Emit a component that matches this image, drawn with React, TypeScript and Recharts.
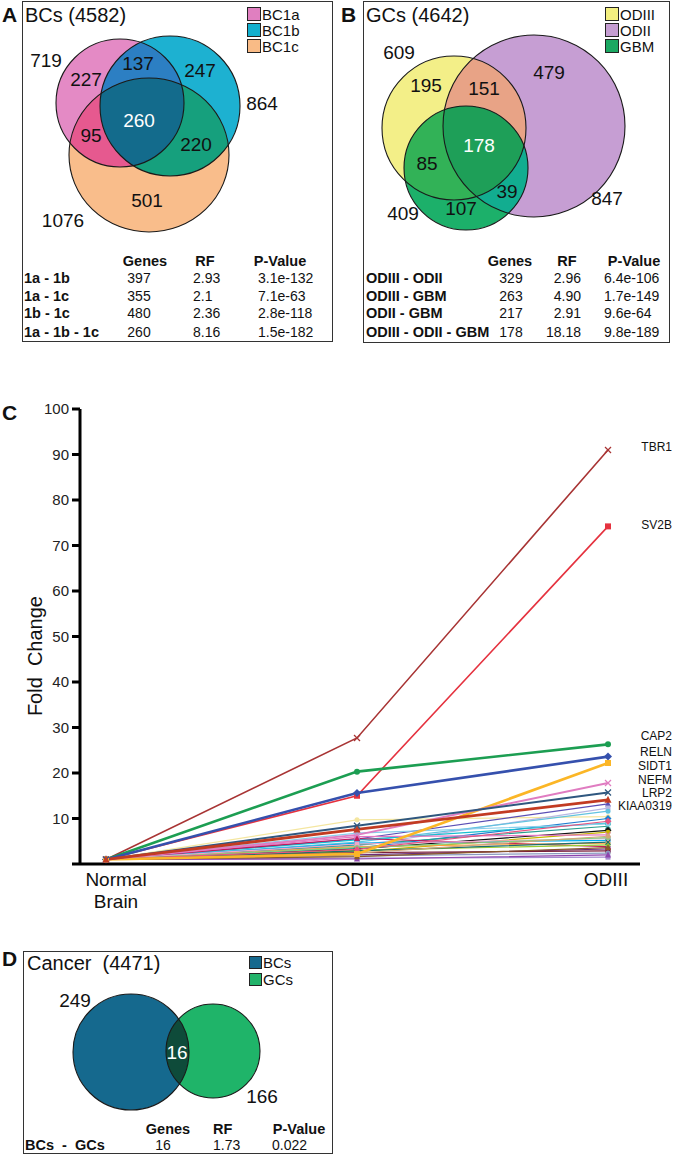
import React from 'react';
import { LineChart, Line, XAxis, YAxis, ScatterChart, Scatter, LabelList } from 'recharts';

const FONT = '"Liberation Sans", Arial, Helvetica, sans-serif';

// ---------------- Panel A (BCs) ----------------
const setsA = ['BC1a', 'BC1b', 'BC1c'];
const totalsA = ['719', '864', '1076'];
const regionCountsA = ['227', '247', '501', '137', '95', '220', '260'];
const tableALabels = ['1a - 1b', '1a - 1c', '1b - 1c', '1a - 1b - 1c'];
const tableAGenes = ['397', '355', '480', '260'];
const tableARF = ['2.93', '2.1', '2.36', '8.16'];
const tableAP = ['3.1e-132', '7.1e-63', '2.8e-118', '1.5e-182'];

// ---------------- Panel B (GCs) ----------------
const setsB = ['ODIII', 'ODII', 'GBM'];
const totalsB = ['609', '847', '409'];
const regionCountsB = ['195', '479', '107', '151', '85', '39', '178'];
const tableBLabels = ['ODIII - ODII', 'ODIII - GBM', 'ODII - GBM', 'ODIII - ODII - GBM'];
const tableBGenes = ['329', '263', '217', '178'];
const tableBRF = ['2.96', '4.90', '2.91', '18.18'];
const tableBP = ['6.4e-106', '1.7e-149', '9.6e-64', '9.8e-189'];

// ---------------- Panel D (Cancer) ----------------
const setsD = ['BCs', 'GCs'];
const totalsD = ['249', '166'];
const regionCountsD = ['16'];
const tableDLabels = ['BCs  -  GCs'];
const tableDGenes = ['16'];
const tableDRF = ['1.73'];
const tableDP = ['0.022'];

// ---------------- Panel C (fold change) ----------------
const stages = ['Normal Brain', 'ODII', 'ODIII'];
const yTicks = [0, 10, 20, 30, 40, 50, 60, 70, 80, 90, 100];
const namedGenes = ['TBR1', 'SV2B', 'CAP2', 'RELN', 'SIDT1', 'NEFM', 'LRP2', 'KIAA0319'];
const namedValues = [
  [1, 27.7, 91.0],
  [1, 15.0, 74.2],
  [1, 20.3, 26.3],
  [1, 15.6, 23.6],
  [1, 2.2, 22.2],
  [1, 6.4, 17.8],
  [1, 8.4, 15.7],
  [1, 7.6, 14.1],
];
const otherValues = [
  [1, 9.7, 10.4],
  [1, 5.5, 13.2],
  [1, 4.0, 12.3],
  [1, 4.8, 11.6],
  [1, 3.5, 10.0],
  [1, 5.3, 9.0],
  [1, 4.2, 8.3],
  [1, 3.3, 7.4],
  [1, 2.7, 7.0],
  [1, 6.0, 6.4],
  [1, 4.6, 5.2],
  [1, 5.6, 3.8],
  [1, 3.8, 4.6],
  [1, 4.4, 5.6],
  [1, 3.0, 4.2],
  [1, 2.0, 3.3],
  [1, 2.5, 2.9],
  [1, 1.8, 2.4],
  [1, 1.3, 1.5],
  [1, 1.1, 2.0],
  [1, 3.6, 5.8],
  [1, 2.9, 4.8],
  [1, 2.4, 6.1],
  [1, 6.8, 8.8],
  [1, 1.6, 3.6],
  [1, 3.2, 9.4],
];

// ---------------- styles (kept apart from data) ----------------
const namedColors = ['#a83434', '#e5323f', '#1c9e52', '#3550ad', '#fbb626', '#e07cc1', '#2f577f', '#c23b22'];
const namedWidths = [1.6, 1.6, 2.6, 2.6, 2.6, 2, 2, 2.8];
const namedMarkers = ['x', 'square', 'circle', 'diamond', 'square', 'x', 'x', 'triangle'];
const namedLabelDy = [-3, -1, -8, -5, 3, -3.5, 0.5, 6];
const otherColors = [
  '#f4e6a0', '#5b4fb5', '#b7b7e3', '#62c3e0', '#1f7fd0', '#17becf', '#2a9d8f', '#111111', '#c8b400',
  '#e377c2', '#00aeef', '#c2185b', '#ff9f40', '#f4a6c8', '#9acd32', '#6b2c7a', '#7b1f3a', '#8a9bc0',
  '#a58bd0', '#8e44ad', '#7fd17f', '#1b6f6f', '#d2a679', '#87ceeb', '#8b5a2b', '#e75480',
];
const otherMarkers = ['circle', 'triangle', 'square', 'circle', 'diamond', 'square', 'x', 'diamond', 'circle',
  'x', 'square', 'triangle', 'circle', 'square', 'circle', 'x', 'square', 'circle', 'square', 'triangle',
  'circle', 'x', 'circle', 'circle', 'triangle', 'diamond'];

const vennA = {
  circles: [
    { x: 98, y: 102, rx: 64, ry: 64 },
    { x: 148, y: 105, rx: 70, ry: 70 },
    { x: 127, y: 154, rx: 80, ry: 77 },
  ],
  regionSets: [[0], [1], [2], [0, 1], [0, 2], [1, 2], [0, 1, 2]],
  regionFills: ['#e48ac5', '#1db1d1', '#f9bd8b', '#2c7fc3', '#e6598f', '#16a07d', '#136b8c'],
  regionLabelPos: [[64, 78], [178, 69], [125, 199], [116, 62], [69, 134], [174, 143], [117, 119]],
  totalPos: [[24, 59], [240, 102], [41, 219]],
  legend: ['#e07fc0', '#12b0cf', '#f9bb86'],
};
const vennB = {
  circles: [
    { x: 91, y: 127, rx: 72, ry: 72 },
    { x: 171, y: 125, rx: 91, ry: 91 },
    { x: 103, y: 167, rx: 62, ry: 62 },
  ],
  regionSets: [[0], [1], [2], [0, 1], [0, 2], [1, 2], [0, 1, 2]],
  regionFills: ['#f3ef88', '#c69ed3', '#1cb06a', '#e8a386', '#32b257', '#12ad90', '#1e9f58'],
  regionLabelPos: [[63, 84], [186, 71], [98, 207], [121, 87], [64, 162], [144, 190], [116, 144]],
  totalPos: [[36, 51], [244, 197], [40, 212]],
  legend: ['#f3ef80', '#c69ed3', '#1ba862'],
};
const vennD = {
  circles: [
    { x: 108, y: 101, rx: 58, ry: 58 },
    { x: 190, y: 100, rx: 47, ry: 47 },
  ],
  regionSets: [[0], [1], [0, 1]],
  regionFills: ['#15698e', '#1fb469', '#0e4b3a'],
  regionLabelPos: [[154, 101]],
  totalPos: [[52, 49], [239, 145]],
  legend: ['#15698e', '#22b36a'],
};

type Circ = { x: number; y: number; rx: number; ry: number };

function T(props: { x: number; y: number; s?: number; b?: boolean; a?: 'start' | 'middle' | 'end'; c?: string; children: React.ReactNode }) {
  const { x, y, s = 14, b = false, a = 'start', c = '#111', children } = props;
  const tx = a === 'middle' ? '-50%' : a === 'end' ? '-100%' : '0';
  return (
    <div style={{ position: 'absolute', left: x, top: y, transform: `translate(${tx}, -50%)`, fontSize: s, fontWeight: b ? 700 : 400, color: c, fontFamily: FONT, whiteSpace: 'pre', lineHeight: 1 }}>
      {children}
    </div>
  );
}

function VennChart(props: {
  uid: string; width: number; height: number; circles: Circ[]; regionSets: number[][]; regionFills: string[];
  labels: { x: number; y: number; text: string; color: string }[];
}) {
  const { uid, width, height, circles, regionSets, regionFills, labels } = props;
  const kx = 1; // domain spans the plot exactly, one unit per pixel
  const ky = 1;
  const regionData = regionSets.map((sets, i) => {
    const main = circles[sets[sets.length - 1]];
    return { x: main.x, y: main.y, rx: main.rx, ry: main.ry, fill: regionFills[i], clips: sets.slice(0, -1).map((s) => circles[s]), id: `${uid}-r${i}` };
  });
  const outlineData = circles.map((c) => ({ ...c }));
  const RegionShape = (p: any) => {
    const d = p.payload;
    const cx = p.cx;
    const cy = p.cy;
    if (cx == null || cy == null) return <g />;
    let el: React.ReactElement = <ellipse cx={cx} cy={cy} rx={d.rx * kx} ry={d.ry * ky} fill={d.fill} />;
    const defs = d.clips.map((c: Circ, j: number) => (
      <clipPath id={`${d.id}-c${j}`} key={j}>
        <ellipse cx={cx + (c.x - d.x) * kx} cy={cy + (c.y - d.y) * ky} rx={c.rx * kx} ry={c.ry * ky} />
      </clipPath>
    ));
    d.clips.forEach((_c: Circ, j: number) => {
      el = <g clipPath={`url(#${d.id}-c${j})`}>{el}</g>;
    });
    return (
      <g>
        <defs>{defs}</defs>
        {el}
      </g>
    );
  };
  const OutlineShape = (p: any) => {
    if (p.cx == null) return <g />;
    return <ellipse cx={p.cx} cy={p.cy} rx={p.payload.rx * kx} ry={p.payload.ry * ky} fill="none" stroke="#1a1a1a" strokeWidth={1.1} />;
  };
  const LabelShape = (p: any) => {
    if (p.cx == null) return <g />;
    return (
      <text x={p.cx} y={p.cy} textAnchor="middle" dominantBaseline="central" fontSize={19} fontFamily={FONT} fill={p.payload.color}>
        {p.payload.text}
      </text>
    );
  };
  return (
    <ScatterChart width={width} height={height} margin={{ top: 0, right: 0, bottom: 0, left: 0 }}>
      <XAxis type="number" dataKey="x" domain={[0, width]} hide allowDataOverflow />
      <YAxis type="number" dataKey="y" domain={[0, height]} hide reversed allowDataOverflow />
      <Scatter data={regionData} shape={RegionShape} isAnimationActive={false} />
      <Scatter data={outlineData} shape={OutlineShape} isAnimationActive={false} />
      <Scatter data={labels} shape={LabelShape} isAnimationActive={false} />
    </ScatterChart>
  );
}

function VennPanel(props: {
  uid: string; left: number; top: number; width: number; height: number; venn: any;
  regionCounts: string[]; totals: string[]; whiteRegion: number;
}) {
  const { uid, left, top, width, height, venn, regionCounts, totals, whiteRegion } = props;
  const labels = [
    ...regionCounts.map((t, i) => ({ x: venn.regionLabelPos[i][0], y: venn.regionLabelPos[i][1], text: t, color: i === whiteRegion ? '#ffffff' : '#111111' })),
    ...totals.map((t, i) => ({ x: venn.totalPos[i][0], y: venn.totalPos[i][1], text: t, color: '#111111' })),
  ];
  return (
    <div style={{ position: 'absolute', left, top, width, height }}>
      <VennChart uid={uid} width={width} height={height} circles={venn.circles} regionSets={venn.regionSets} regionFills={venn.regionFills} labels={labels} />
      <div style={{ position: 'absolute', left: 0, top: 0, width, height, boxSizing: 'border-box', border: '1.5px solid #333', pointerEvents: 'none' }} />
    </div>
  );
}

function LegendBox(props: { x: number; y: number; names: string[]; colors: string[]; step: number; size: number }) {
  const { x, y, names, colors, step, size } = props;
  return (
    <>
      {names.map((n, i) => (
        <React.Fragment key={n}>
          <div style={{ position: 'absolute', left: x, top: y + i * step - size / 2, width: size, height: size, boxSizing: 'border-box', border: '1px solid #222', background: colors[i] }} />
          <T x={x + size + 1} y={y + i * step} s={15}>{n}</T>
        </React.Fragment>
      ))}
    </>
  );
}

function StatsTable(props: {
  labelX: number; headerY: number; rowYs: number[]; labels: string[]; genes: string[]; rf: string[]; p: string[];
  genesX: number; rfX: number; rfAnchor: 'start' | 'middle' | 'end'; pX: number; pAnchor: 'start' | 'middle' | 'end';
  hGenesX: number; hRfX: number; hRfAnchor: 'start' | 'middle' | 'end'; hPX: number;
}) {
  const q = props;
  return (
    <>
      <T x={q.hGenesX} y={q.headerY} b a="middle" s={14.5}>Genes</T>
      <T x={q.hRfX} y={q.headerY} b a={q.hRfAnchor} s={14.5}>RF</T>
      <T x={q.hPX} y={q.headerY} b a="middle" s={14.5}>P-Value</T>
      {q.labels.map((l, i) => (
        <React.Fragment key={l}>
          <T x={q.labelX} y={q.rowYs[i]} b s={14.5}>{l}</T>
          <T x={q.genesX} y={q.rowYs[i]} a="middle" s={14}>{q.genes[i]}</T>
          <T x={q.rfX} y={q.rowYs[i]} a={q.rfAnchor} s={14}>{q.rf[i]}</T>
          <T x={q.pX} y={q.rowYs[i]} a={q.pAnchor} s={14}>{q.p[i]}</T>
        </React.Fragment>
      ))}
    </>
  );
}

function Marker(props: { cx?: number; cy?: number; kind: string; color: string; s: number }) {
  const { cx, cy, kind, color, s } = props;
  if (cx == null || cy == null) return <g />;
  const h = s / 2;
  switch (kind) {
    case 'square':
      return <rect x={cx - h} y={cy - h} width={s} height={s} fill={color} />;
    case 'diamond':
      return <polygon points={`${cx},${cy - h - 1} ${cx + h + 1},${cy} ${cx},${cy + h + 1} ${cx - h - 1},${cy}`} fill={color} />;
    case 'triangle':
      return <polygon points={`${cx},${cy - h - 1} ${cx + h + 0.5},${cy + h} ${cx - h - 0.5},${cy + h}`} fill={color} />;
    case 'x':
      return (
        <g stroke={color} strokeWidth={1.3}>
          <line x1={cx - h} y1={cy - h} x2={cx + h} y2={cy + h} />
          <line x1={cx - h} y1={cy + h} x2={cx + h} y2={cy - h} />
        </g>
      );
    default:
      return <circle cx={cx} cy={cy} r={h} fill={color} />;
  }
}

const StageTick = (p: any) => {
  const { x, y, payload } = p;
  const lines = String(payload.value) === 'Normal Brain' ? ['Normal', 'Brain'] : [String(payload.value)];
  const dx = lines.length > 1 ? 10 : -2;
  return (
    <g>
      {lines.map((l, i) => (
        <text key={l} x={x + dx} y={y + 7 + i * 22} textAnchor="middle" dominantBaseline="central" fontSize={19} fontFamily={FONT} fill="#111">
          {l}
        </text>
      ))}
    </g>
  );
};

const YLabel = (p: any) => {
  const vb = p.viewBox || { x: 0, y: 0, width: 80, height: 455 };
  const x = vb.x + 35;
  const y = vb.y + vb.height * 0.543;
  return (
    <text x={x} y={y} transform={`rotate(-90, ${x}, ${y})`} textAnchor="middle" dominantBaseline="central" fontSize={20} fontFamily={FONT} fill="#111" style={{ whiteSpace: 'pre' }}>
      {'Fold  Change'}
    </text>
  );
};

function FoldChangeChart() {
  const rows = stages.map((s, i) => {
    const r: Record<string, any> = { stage: s };
    namedGenes.forEach((g, j) => { r[g] = namedValues[j][i]; });
    otherValues.forEach((v, j) => { r[`other${j}`] = v[i]; });
    return r;
  });
  return (
    <LineChart width={676} height={540} data={rows} margin={{ top: 29, right: 36, bottom: 16, left: 0 }}>
      <XAxis dataKey="stage" height={40} padding={{ left: 26, right: 32 }} axisLine={{ stroke: '#000', strokeWidth: 3 }} tickLine={false} tick={<StageTick />} interval={0} />
      <YAxis
        width={80}
        domain={[0, 100]}
        ticks={yTicks}
        interval={0}
        tickSize={8}
        tickMargin={3}
        axisLine={{ stroke: '#000', strokeWidth: 3 }}
        tickLine={{ stroke: '#000', strokeWidth: 3 }}
        tick={{ fontSize: 15, fill: '#222', fontFamily: FONT }}
        tickFormatter={(v: number) => (v === 0 ? '' : String(v))}
        label={{ value: 'Fold  Change', content: YLabel }}
      />
      {otherValues.map((_v, j) => (
        <Line
          key={`other${j}`}
          dataKey={`other${j}`}
          stroke={otherColors[j]}
          strokeWidth={1.2}
          isAnimationActive={false}
          dot={(p: any) => <Marker key={`o${j}-${p.index}`} cx={p.cx} cy={p.cy} kind={otherMarkers[j]} color={otherColors[j]} s={5} />}
          activeDot={false}
        />
      ))}
      {namedGenes.map((g, j) => (
        <Line
          key={g}
          dataKey={g}
          stroke={namedColors[j]}
          strokeWidth={namedWidths[j]}
          isAnimationActive={false}
          dot={(p: any) => <Marker key={`${g}-${p.index}`} cx={p.cx} cy={p.cy} kind={namedMarkers[j]} color={namedColors[j]} s={6} />}
          activeDot={false}
        >
          <LabelList
            dataKey={g}
            content={(p: any) =>
              p.index === 2 ? (
                <text x={672} y={p.y + namedLabelDy[j]} textAnchor="end" dominantBaseline="central" fontSize={12} fontFamily={FONT} fill="#111">
                  {g}
                </text>
              ) : null
            }
          />
        </Line>
      ))}
    </LineChart>
  );
}

export default function App() {
  const rowYs = [278, 296, 313, 332];
  return (
    <div style={{ position: 'absolute', left: 0, top: 0, width: 676, height: 1160, background: '#fff', overflow: 'hidden', fontFamily: FONT }}>
      {/* Panel A */}
      <VennPanel uid="A" left={22} top={1} width={311} height={341} venn={vennA} regionCounts={regionCountsA} totals={totalsA} whiteRegion={6} />
      <T x={2} y={14} s={21} b>A</T>
      <T x={25} y={15} s={20}>BCs (4582)</T>
      <LegendBox x={247} y={14} names={setsA} colors={vennA.legend} step={16} size={14} />
      <StatsTable labelX={24} headerY={261} rowYs={rowYs} labels={tableALabels} genes={tableAGenes} rf={tableARF} p={tableAP}
        genesX={139} rfX={193} rfAnchor="start" pX={258} pAnchor="start" hGenesX={145} hRfX={205} hRfAnchor="middle" hPX={280} />

      {/* Panel B */}
      <VennPanel uid="B" left={363} top={1} width={307} height={342} venn={vennB} regionCounts={regionCountsB} totals={totalsB} whiteRegion={6} />
      <T x={341} y={14} s={21} b>B</T>
      <T x={366} y={15} s={20}>GCs (4642)</T>
      <LegendBox x={605} y={14} names={setsB} colors={vennB.legend} step={16} size={14} />
      <StatsTable labelX={366} headerY={261} rowYs={rowYs} labels={tableBLabels} genes={tableBGenes} rf={tableBRF} p={tableBP}
        genesX={511} rfX={581} rfAnchor="end" pX={604} pAnchor="start" hGenesX={510} hRfX={567} hRfAnchor="middle" hPX={634} />

      {/* Panel C */}
      <div style={{ position: 'absolute', left: 0, top: 380 }}>
        <FoldChangeChart />
      </div>
      <T x={2} y={412} s={21} b>C</T>

      {/* Panel D */}
      <VennPanel uid="D" left={23} top={951} width={310} height={203} venn={vennD} regionCounts={regionCountsD} totals={totalsD} whiteRegion={0} />
      <T x={2} y={958} s={21} b>D</T>
      <T x={27} y={963} s={20}>Cancer  (4471)</T>
      <LegendBox x={249} y={962} names={setsD} colors={vennD.legend} step={17} size={13} />
      <StatsTable labelX={25} headerY={1129} rowYs={[1145]} labels={tableDLabels} genes={tableDGenes} rf={tableDRF} p={tableDP}
        genesX={163} rfX={213} rfAnchor="start" pX={272} pAnchor="start" hGenesX={168} hRfX={213} hRfAnchor="start" hPX={299} />
    </div>
  );
}
